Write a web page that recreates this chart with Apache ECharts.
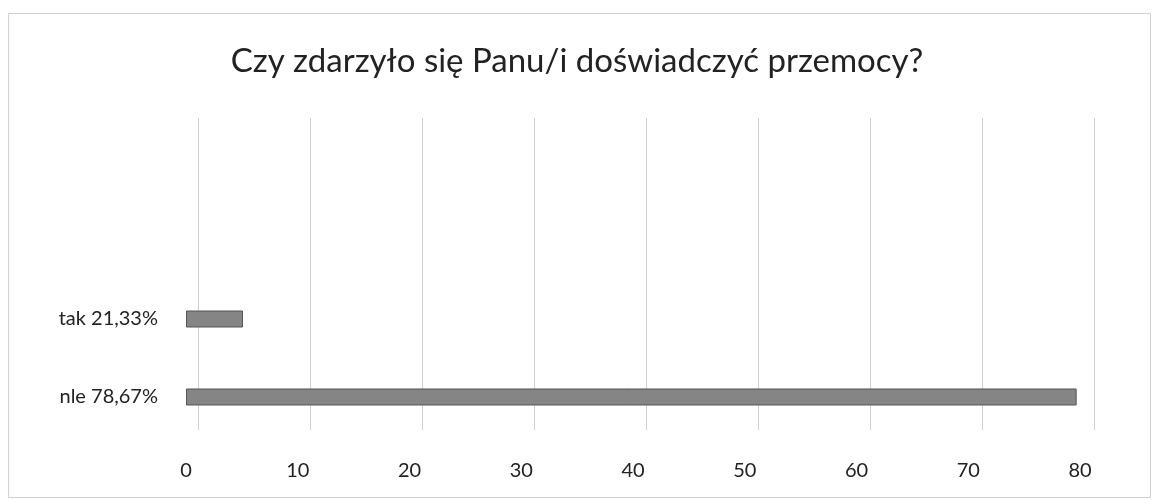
<!DOCTYPE html>
<html>
<head>
<meta charset="utf-8">
<script src="https://cdn.jsdelivr.net/npm/echarts@6/dist/echarts.min.js"></script>
<style>
  html, body { margin: 0; padding: 0; background: #fff; }
  #chart { width: 1154px; height: 500px; }
</style>
</head>
<body>
<div id="chart"></div>
<script>
// dane
const titleText = 'Czy zdarzyło się Panu/i doświadczyć przemocy?';
const categories = ['nle 78,67%', 'tak 21,33%'];
const values = [79.7, 5.1];
const axisMin = 0;
const axisMax = 80;
const axisStep = 10;

const chart = echarts.init(document.getElementById('chart'));

const options = {
  backgroundColor: '#ffffff',
  animation: false,
  title: {
    text: titleText,
    left: 'center',
    top: 40,
    textStyle: {
      fontFamily: 'Lato',
      fontSize: 33,
      fontWeight: 'normal',
      color: '#222'
    }
  },
  graphic: [
    {
      type: 'rect',
      shape: { x: 8.5, y: 13.5, width: 1142, height: 484 },
      style: { fill: 'none', stroke: '#d0d0d0', lineWidth: 1 },
      silent: true
    }
  ],
  grid: [
    // tylna ściana z liniami siatki
    { left: 198, right: 60, top: 118, bottom: 70 },
    // przód z słupkami
    { left: 186, right: 74, top: 280, bottom: 64 }
  ],
  xAxis: [
    {
      gridIndex: 0,
      type: 'value',
      min: axisMin,
      max: axisMax,
      interval: axisStep,
      axisLine: { show: false },
      axisTick: { show: false },
      axisLabel: { show: false },
      splitLine: { show: true, lineStyle: { color: '#cfcfcf', width: 1 } }
    },
    {
      gridIndex: 1,
      type: 'value',
      min: axisMin,
      max: axisMax,
      interval: axisStep,
      axisLine: { show: false },
      axisTick: { show: false },
      splitLine: { show: false },
      axisLabel: {
        margin: 25,
        fontFamily: 'Lato',
        fontSize: 20,
        color: '#222'
      }
    }
  ],
  yAxis: [
    {
      gridIndex: 0,
      type: 'category',
      data: categories,
      show: false
    },
    {
      gridIndex: 1,
      type: 'category',
      data: categories,
      axisLine: { show: false },
      axisTick: { show: false },
      axisLabel: {
        margin: 28,
        fontFamily: 'Lato',
        fontSize: 20,
        color: '#222'
      }
    }
  ],
  series: [
    {
      type: 'bar',
      xAxisIndex: 1,
      yAxisIndex: 1,
      data: values,
      barWidth: 17,
      itemStyle: {
        color: '#858585',
        borderColor: '#555555',
        borderWidth: 1
      }
    }
  ]
};

chart.setOption(options);

window.addEventListener('resize', () => {
  chart.resize();
});
</script>
</body>
</html>
